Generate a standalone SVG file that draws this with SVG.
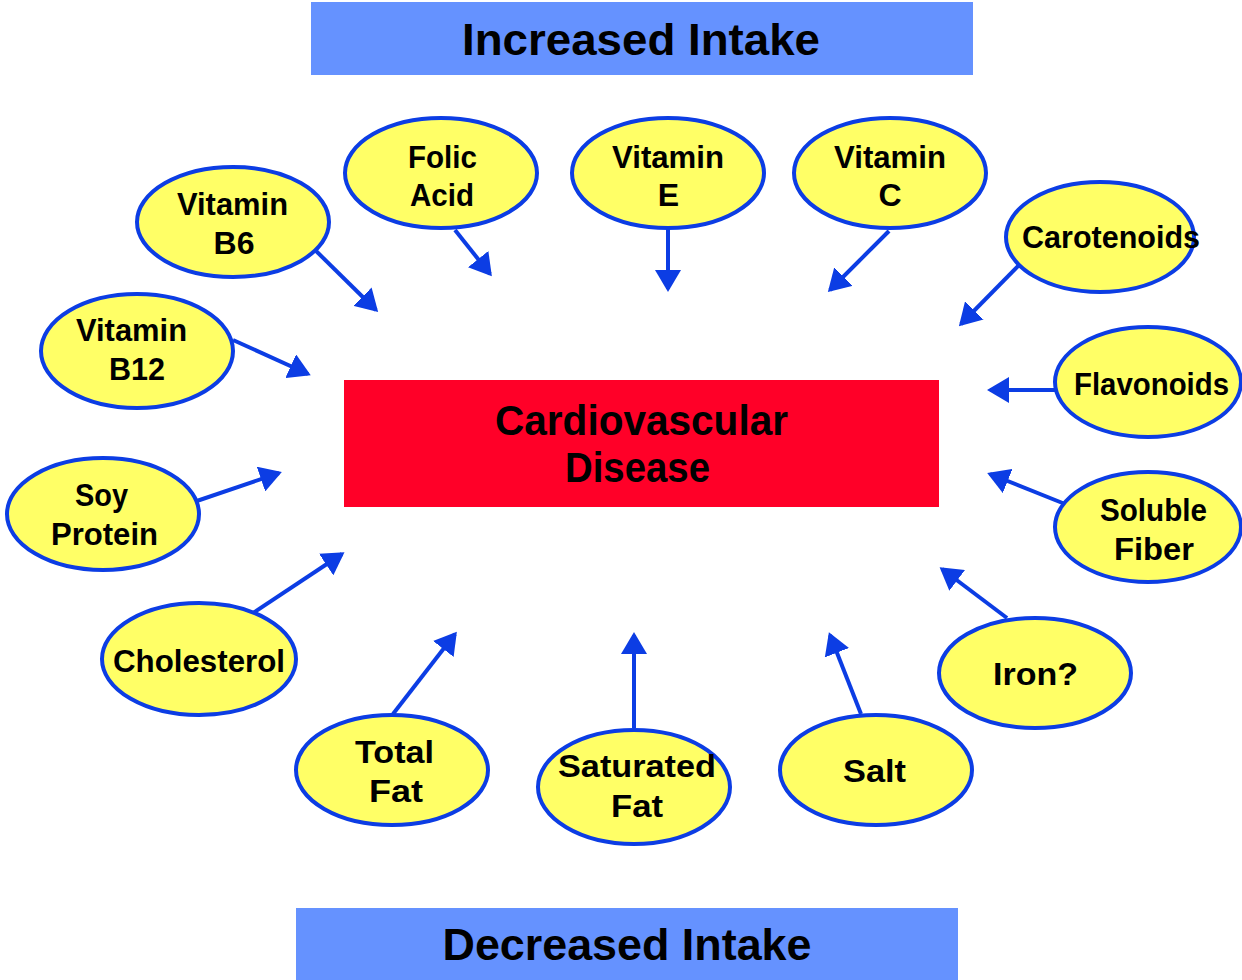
<svg xmlns="http://www.w3.org/2000/svg" width="1242" height="980" viewBox="0 0 1242 980">
<style>
.bar{fill:#6592FF}
.node ellipse{fill:#FFFF66;stroke:#0C3DE4;stroke-width:4}
.t{font-family:"Comic Sans MS","Liberation Sans","DejaVu Sans",sans-serif;font-weight:bold;fill:#000;text-anchor:middle}
.n{font-size:32px}
.h{font-size:44px}
.c{font-size:42px}
.conn line{stroke:#0C3DE4;stroke-width:4;marker-end:url(#ah)}
</style>
<defs>
<marker id="ah" markerUnits="userSpaceOnUse" viewBox="0 0 22 26" markerWidth="22" markerHeight="26" refX="19" refY="13" orient="auto">
<path d="M0,0 L22,13 L0,26 z" fill="#0C3DE4"/>
</marker>
</defs>
<rect width="1242" height="980" fill="#fff"/>
<g id="increased">
<rect class="bar" x="311" y="2" width="662" height="73"/>
<text class="t h" x="641" y="55" textLength="358" lengthAdjust="spacingAndGlyphs">Increased Intake</text>
</g>
<g id="decreased">
<rect class="bar" x="296" y="908" width="662" height="72"/>
<text class="t h" x="627" y="960" textLength="369" lengthAdjust="spacingAndGlyphs">Decreased Intake</text>
</g>
<g id="cvd">
<rect x="344" y="380" width="595" height="127" fill="#FF0028"/>
<text class="t c" x="641.5" y="435" textLength="293" lengthAdjust="spacingAndGlyphs">Cardiovascular</text>
<text class="t c" x="637.5" y="482" textLength="145" lengthAdjust="spacingAndGlyphs">Disease</text>
</g>
<g class="conn" id="connectors">
<line x1="310" y1="245" x2="376" y2="310"/>
<line x1="455" y1="230" x2="490" y2="274"/>
<line x1="668" y1="229" x2="668" y2="289"/>
<line x1="889" y1="231" x2="830" y2="290"/>
<line x1="1020" y1="264" x2="961" y2="324"/>
<line x1="233" y1="340" x2="308" y2="374"/>
<line x1="1055" y1="390" x2="990" y2="390"/>
<line x1="185" y1="505" x2="279" y2="473"/>
<line x1="1070" y1="506" x2="990" y2="474"/>
<line x1="247" y1="617" x2="342" y2="554"/>
<line x1="1007" y1="618" x2="942" y2="569"/>
<line x1="393" y1="714" x2="455" y2="634"/>
<line x1="634" y1="728" x2="634" y2="635"/>
<line x1="861" y1="714" x2="830" y2="635"/>
</g>
<g class="node" id="vitB6">
<ellipse cx="233" cy="222" rx="96" ry="55"/>
<text class="t n" x="232.5" y="215" textLength="111" lengthAdjust="spacingAndGlyphs">Vitamin</text>
<text class="t n" x="234" y="254">B6</text>
</g>
<g class="node" id="folic">
<ellipse cx="441" cy="173" rx="96" ry="55"/>
<text class="t n" x="442.5" y="168" textLength="69" lengthAdjust="spacingAndGlyphs">Folic</text>
<text class="t n" x="442" y="206" textLength="64" lengthAdjust="spacingAndGlyphs">Acid</text>
</g>
<g class="node" id="vitE">
<ellipse cx="668" cy="173" rx="96" ry="55"/>
<text class="t n" x="668" y="168" textLength="112" lengthAdjust="spacingAndGlyphs">Vitamin</text>
<text class="t n" x="668.5" y="206">E</text>
</g>
<g class="node" id="vitC">
<ellipse cx="890" cy="173" rx="96" ry="55"/>
<text class="t n" x="890" y="168" textLength="112" lengthAdjust="spacingAndGlyphs">Vitamin</text>
<text class="t n" x="890" y="206">C</text>
</g>
<g class="node" id="carotenoids">
<ellipse cx="1100" cy="237" rx="94" ry="55"/>
<text class="t n" x="1111" y="248" textLength="178" lengthAdjust="spacingAndGlyphs">Carotenoids</text>
</g>
<g class="node" id="vitB12">
<ellipse cx="137" cy="351" rx="96" ry="57"/>
<text class="t n" x="131.5" y="341" textLength="111" lengthAdjust="spacingAndGlyphs">Vitamin</text>
<text class="t n" x="137" y="380" textLength="56" lengthAdjust="spacingAndGlyphs">B12</text>
</g>
<g class="node" id="flavonoids">
<ellipse cx="1148" cy="382" rx="93" ry="55"/>
<text class="t n" x="1151.5" y="395" textLength="155" lengthAdjust="spacingAndGlyphs">Flavonoids</text>
</g>
<g class="node" id="soy">
<ellipse cx="103" cy="514" rx="96" ry="56"/>
<text class="t n" x="101.5" y="506" textLength="53" lengthAdjust="spacingAndGlyphs">Soy</text>
<text class="t n" x="104.5" y="545" textLength="107" lengthAdjust="spacingAndGlyphs">Protein</text>
</g>
<g class="node" id="fiber">
<ellipse cx="1148" cy="527" rx="93" ry="55"/>
<text class="t n" x="1153.5" y="521" textLength="107" lengthAdjust="spacingAndGlyphs">Soluble</text>
<text class="t n" x="1154" y="560" textLength="80" lengthAdjust="spacingAndGlyphs">Fiber</text>
</g>
<g class="node" id="cholesterol">
<ellipse cx="199" cy="659" rx="97" ry="56"/>
<text class="t n" x="199" y="672" textLength="172" lengthAdjust="spacingAndGlyphs">Cholesterol</text>
</g>
<g class="node" id="iron">
<ellipse cx="1035" cy="673" rx="96" ry="55"/>
<text class="t n" x="1035.5" y="685" textLength="85" lengthAdjust="spacingAndGlyphs">Iron?</text>
</g>
<g class="node" id="totalfat">
<ellipse cx="392" cy="770" rx="96" ry="55"/>
<text class="t n" x="394.5" y="763" textLength="79" lengthAdjust="spacingAndGlyphs">Total</text>
<text class="t n" x="396" y="802" textLength="54" lengthAdjust="spacingAndGlyphs">Fat</text>
</g>
<g class="node" id="satfat">
<ellipse cx="634" cy="787" rx="96" ry="57"/>
<text class="t n" x="637" y="777" textLength="158" lengthAdjust="spacingAndGlyphs">Saturated</text>
<text class="t n" x="637" y="817" textLength="52" lengthAdjust="spacingAndGlyphs">Fat</text>
</g>
<g class="node" id="salt">
<ellipse cx="876" cy="770" rx="96" ry="55"/>
<text class="t n" x="874.5" y="782" textLength="63" lengthAdjust="spacingAndGlyphs">Salt</text>
</g>
</svg>
